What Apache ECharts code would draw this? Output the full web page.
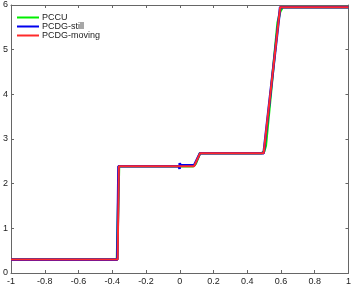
<!DOCTYPE html>
<html><head><meta charset="utf-8">
<script src="https://cdn.jsdelivr.net/npm/echarts@6/dist/echarts.min.js"></script>
<style>html,body{margin:0;padding:0;background:#fff}#c{width:354px;height:287px}</style>
</head><body><div id="c"></div>
<script>
const seriesNames = ['PCCU', 'PCDG-still', 'PCDG-moving'];
const pccuX = [-1, -0.372, -0.365, -0.36, 0.08, 0.095, 0.12, 0.485, 0.5, 0.51, 0.58, 0.595, 0.61, 1];
const pccuY = [0.3, 0.3, 1.5, 2.39, 2.39, 2.45, 2.68, 2.68, 2.72, 2.85, 5.6, 5.85, 5.95, 5.95];
const stillX = [-1, -0.37, -0.363, -0.005, -0.001, 0, 0.004, 0.085, 0.12, 0.497, 0.595, 1];
const stillY = [0.3, 0.3, 2.39, 2.39, 2.33, 2.46, 2.41, 2.41, 2.68, 2.68, 5.95, 5.95];
const movingX = [-1, -0.368, -0.361, 0.085, 0.12, 0.497, 0.595, 1];
const movingY = [0.3, 0.3, 2.39, 2.39, 2.68, 2.68, 5.95, 5.95];
const xTicks = [-1, -0.8, -0.6, -0.4, -0.2, 0, 0.2, 0.4, 0.6, 0.8, 1];
const yTicks = [0, 1, 2, 3, 4, 5, 6];

const pairs = (xs, ys) => xs.map((x, i) => [x, ys[i]]);
const font = 'Liberation Sans';
const axisCol = '#666';
const chart = echarts.init(document.getElementById('c'));
const baseX = {type: 'value', min: -1, max: 1, interval: 0.2,
  axisLine: {onZero: false, lineStyle: {color: axisCol, width: 1}},
  axisTick: {inside: true, length: 3, lineStyle: {color: axisCol}},
  splitLine: {show: false}};
const baseY = {type: 'value', min: 0, max: 6, interval: 1,
  axisLine: {show: true, onZero: false, lineStyle: {color: axisCol, width: 1}},
  axisTick: {show: true, inside: true, length: 3, lineStyle: {color: axisCol}},
  splitLine: {show: false}};
chart.setOption({
  animation: false,
  grid: {left: 8, right: 5, top: 5, bottom: 14, containLabel: false},
  legend: {
    left: 12, top: 8, orient: 'vertical', itemGap: 0,
    itemWidth: 22, itemHeight: 9,
    icon: 'path://M0,4 L22,4 L22,6 L0,6 Z',
    textStyle: {fontFamily: font, fontSize: 9, color: '#222', padding: [0, 0, 0, -2]},
    data: seriesNames.map((n, i) => ({name: n, itemStyle: {color: ['#00ee00', '#0000ee', '#ff2a2a'][i]}}))
  },
  xAxis: [
    Object.assign({}, baseX, {position: 'bottom',
      axisLabel: {fontFamily: font, fontSize: 9, color: '#222', margin: 4,
        formatter: v => xTicks.includes(Math.round(v * 10) / 10) ? String(Math.round(v * 10) / 10) : ''}}),
    Object.assign({}, baseX, {position: 'top', axisLabel: {show: false}})
  ],
  yAxis: [
    Object.assign({}, baseY, {position: 'left',
      axisLabel: {fontFamily: font, fontSize: 9, color: '#222', margin: 3,
        formatter: v => yTicks.includes(v) ? String(v) : ''}}),
    Object.assign({}, baseY, {position: 'right', axisLabel: {show: false}})
  ],
  series: [
    {name: seriesNames[0], type: 'line', data: pairs(pccuX, pccuY), showSymbol: false,
      lineStyle: {color: '#00ee00', width: 2.5}, itemStyle: {color: '#00ee00'}},
    {name: seriesNames[1], type: 'line', data: pairs(stillX, stillY), showSymbol: false,
      lineStyle: {color: '#0000ee', width: 2.6}, itemStyle: {color: '#0000ee'}},
    {name: seriesNames[2], type: 'line', data: pairs(movingX, movingY), showSymbol: false,
      lineStyle: {color: '#ff2a2a', width: 2}, itemStyle: {color: '#ff2a2a'}}
  ]
});
</script></body></html>
